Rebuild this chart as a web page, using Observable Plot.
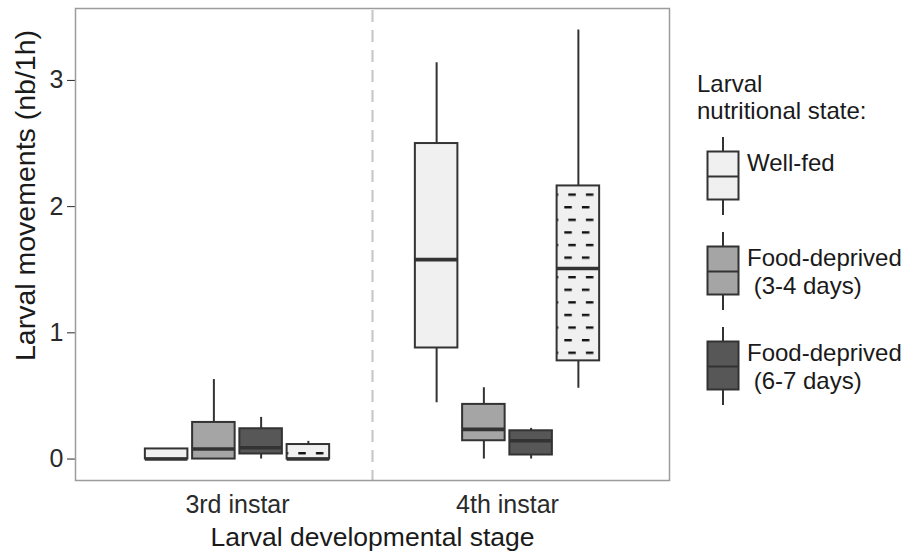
<!DOCTYPE html>
<html><head><meta charset="utf-8">
<script src="https://cdn.jsdelivr.net/npm/d3@7"></script>
<script src="https://cdn.jsdelivr.net/npm/@observablehq/plot@0.6"></script>
<style>
body{margin:0;background:#fff;}
#wrap{position:relative;width:904px;height:554px;font-family:"Liberation Sans",Arial,sans-serif;background:#fff;}
#wrap svg.chart{position:absolute;left:0;top:0;}
.lt{position:absolute;font-size:24px;color:#1a1a1a;white-space:pre;line-height:28px;}
.lg{position:absolute;}
</style></head><body><div id="wrap"></div>
<script>
// ---- data (five-number summaries: min, q1, median, q3, max), one entry per stage ----
const stages = ["3rd instar", "4th instar"];
const states = ["Well-fed", "Food-deprived (3-4 days)", "Food-deprived (6-7 days)", "Well-fed (dashed)"];
const legendStates = ["Well-fed", "Food-deprived\n (3-4 days)", "Food-deprived\n (6-7 days)"];
const stateFill = ["#f0f0f0", "#a5a5a5", "#575757", "#f0f0f0"];
const patterned = [false, false, false, true];
const wellFed    = [[0, 0, 0, 0.08, 0.08], [0.446, 0.88, 1.58, 2.50, 3.14]];
const deprived34 = [[0, 0, 0.08, 0.29, 0.63], [0, 0.145, 0.235, 0.433, 0.565]];
const deprived67 = [[0, 0.04, 0.09, 0.24, 0.33], [0, 0.032, 0.145, 0.224, 0.243]];
const wellFedDashed = [[0, 0, 0, 0.115, 0.14], [0.56, 0.778, 1.51, 2.164, 3.40]];
const separators = [1.5];
const yTicks = [0, 1, 2, 3];

// ---- build table (dodge 0.7, box width 90% of slot) ----
const series = [wellFed, deprived34, deprived67, wellFedDashed];
const dodge = 0.7 / states.length, hw = dodge * 0.9 / 2;
const rows = [];
stages.forEach((st, i) => series.forEach((s, k) => {
  const [min, q1, med, q3, max] = s[i];
  rows.push({stage: st, si: i, state: states[k], k, x: i + 1 + (k - (states.length - 1) / 2) * dodge,
    min, q1, med, q3, max, fill: stateFill[k], pat: patterned[k]});
}));
const plain = rows.filter(d => !d.pat);
const pats = rows.filter(d => d.pat);
const halves = pats.flatMap(d => [
  {x: d.x, y1: d.med, y2: d.q3, id: `pat-${d.si}-u`, top: d.q3},
  {x: d.x, y1: d.q1, y2: d.med, id: `pat-${d.si}-l`, top: d.med}
]);

const ink = "#333333";
const sw = 2;
const chart = Plot.plot({
  width: 680, height: 554,
  marginLeft: 75, marginRight: 11, marginTop: 8, marginBottom: 74,
  style: {fontFamily: "'Liberation Sans', Arial, sans-serif", fontSize: "25px", color: "#2a2a2a", background: "transparent"},
  x: {type: "linear", domain: [0.4, 2.6], ticks: [1, 2], tickFormat: d => stages[d - 1], tickSize: 0, tickPadding: 15, label: null},
  y: {domain: [-0.17, 3.57], ticks: yTicks, tickFormat: d => String(d), tickSize: 8, tickPadding: 4, label: null},
  color: {type: "identity"},
  marks: [
    Plot.ruleX(separators, {stroke: "#c8c8c8", strokeWidth: 2.2, strokeDasharray: "12,8", strokeDashoffset: -2}),
    Plot.ruleX(rows, {x: "x", y1: "min", y2: "max", stroke: ink, strokeWidth: sw}),
    Plot.rect(plain, {x1: d => d.x - hw, x2: d => d.x + hw, y1: "q1", y2: "q3", fill: "fill", stroke: ink, strokeWidth: sw}),
    Plot.rect(halves, {x1: d => d.x - hw, x2: d => d.x + hw, y1: "y1", y2: "y2", fill: d => `url(#${d.id})`}),
    Plot.rect(pats, {x1: d => d.x - hw, x2: d => d.x + hw, y1: "q1", y2: "q3", fill: "none", stroke: ink, strokeWidth: sw}),
    Plot.ruleY(rows, {y: "med", x1: d => d.x - hw, x2: d => d.x + hw, stroke: ink, strokeWidth: 3.6}),
    Plot.frame({stroke: "#9c9c9c", strokeWidth: 1.5}),
    Plot.text(["Larval developmental stage"], {frameAnchor: "bottom", textAnchor: "middle", lineAnchor: "middle", dy: 57, fontSize: 26.5, fill: "#1a1a1a"}),
    Plot.text(["Larval movements (nb/1h)"], {frameAnchor: "left", textAnchor: "middle", lineAnchor: "middle", rotate: -90, dx: -50, dy: -49, fontSize: 28.5, fill: "#1a1a1a"})
  ]
});
chart.classList.add("chart");

// hatch patterns anchored at each half-box (as ggpattern does)
const ns = "http://www.w3.org/2000/svg";
const xs = chart.scale("x"), ys = chart.scale("y");
const defs = document.createElementNS(ns, "defs");
halves.forEach(h => {
  const left = xs.apply(h.x - hw), top = ys.apply(h.top);
  const p = document.createElementNS(ns, "pattern");
  p.setAttribute("id", h.id);
  p.setAttribute("patternUnits", "userSpaceOnUse");
  p.setAttribute("width", 17.6); p.setAttribute("height", 25.2);
  p.setAttribute("x", left + 7.7); p.setAttribute("y", top + 8);
  p.innerHTML = `<rect width="17.6" height="25.2" fill="#f0f0f0"/><rect x="4" y="0" width="7.5" height="2.4" fill="#111"/><rect x="0" y="12.6" width="7.5" height="2.4" fill="#111"/>`;
  defs.appendChild(p);
});
chart.insertBefore(defs, chart.firstChild);

const wrap = document.getElementById("wrap");
wrap.appendChild(chart);

// ---- legend ----
const title = document.createElement("div");
title.className = "lt";
title.style.left = "697px"; title.style.top = "70px"; title.style.lineHeight = "27px";
title.textContent = "Larval\nnutritional state:";
wrap.appendChild(title);
legendStates.forEach((lab, i) => {
  const g = document.createElementNS(ns, "svg");
  g.setAttribute("class", "lg");
  g.setAttribute("width", 36); g.setAttribute("height", 80);
  g.style.left = "705px"; g.style.top = (136.5 + i * 95.2) + "px";
  g.innerHTML = `<line x1="18" x2="18" y1="0" y2="78" stroke="${ink}" stroke-width="${sw}"/>` +
    `<rect x="2.5" y="14.5" width="31" height="48" fill="${stateFill[i]}" stroke="${ink}" stroke-width="${sw}"/>` +
    `<line x1="2.5" x2="33.5" y1="39.5" y2="39.5" stroke="${ink}" stroke-width="${sw}"/>`;
  wrap.appendChild(g);
  const t = document.createElement("div");
  t.className = "lt";
  t.style.left = "747px";
  t.style.top = (i === 0 ? 149 : 244 + (i - 1) * 95.2) + "px";
  t.textContent = lab;
  wrap.appendChild(t);
});
</script></body></html>
